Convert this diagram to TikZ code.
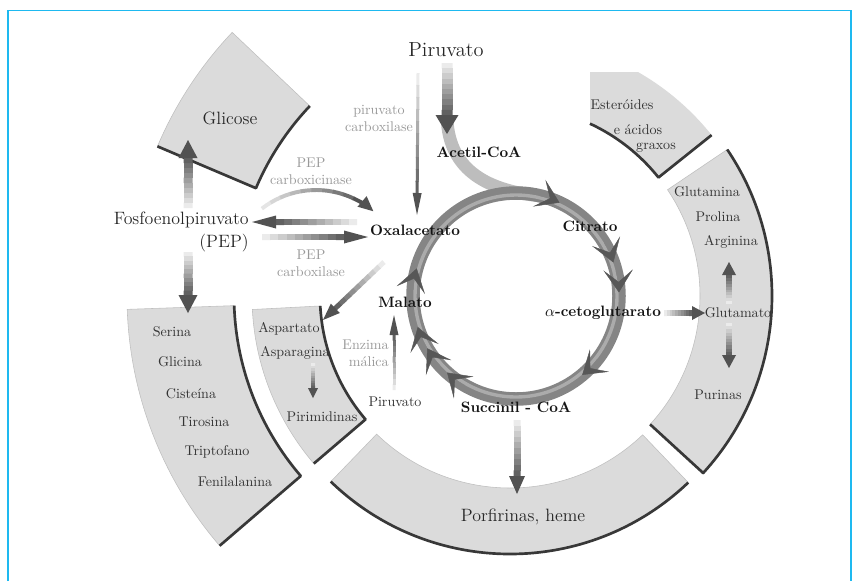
\documentclass[tikz,border=0pt]{standalone}
\usepackage{fontspec}
\usepackage{tikz}
\usetikzlibrary{calc, arrows.meta}

\definecolor{moldura}{RGB}{30,185,240}

% seta reta com degrade: inicio, ponta, haste, largura e comprimento da cabeca (px)
\newcommand\fadearrow[5]{%
  \coordinate (hb) at ($(#2)!#5*0.7113pt!(#1)$);
  \foreach \i in {0,...,9}{%
    \pgfmathsetmacro\shd{8+6*\i}%
    \draw[line width=#3*0.7113pt, black!\shd] ($(#1)!\i/10!(hb)$) -- ($(#1)!\i/10+0.11!(hb)$);
  }%
  \fill[black!68] ($(hb)!#4*0.3557pt!90:(#2)$) -- (#2) -- ($(hb)!#4*0.3557pt!-90:(#2)$) -- cycle;
}
% setor do anel: angulo inicial, final, raio interno, externo
\newcommand\ringpiece[4]{%
  \filldraw[piece] ($(ctr)+(#1:#3)$) arc[start angle=#1, end angle=#2, radius=#3]
    -- ($(ctr)+(#2:#4)$) arc[start angle=#2, end angle=#1, radius=#4] -- cycle;
}

\begin{document}
\begin{tikzpicture}[x=0.025cm, y=-0.025cm,
    piece/.style={fill=black!14, draw=black!25, line width=0.4pt},
    rim/.style={draw=black!78, line width=1.9pt, line join=round},
    cycletip/.style={draw=black!48, line width=0.3pt,
        -{Stealth[length=16pt, width=21pt, inset=8.5pt, color=black!66]}},
    met/.style={font=\fontsize{10.7}{13}\selectfont\bfseries, text=black!92, inner sep=0pt},
    prod/.style={font=\fontsize{10}{12}\selectfont, text=black!80, inner sep=0pt},
    enz/.style={font=\fontsize{10}{12.1}\selectfont, text=black!40, align=center, inner sep=0pt},
    mid/.style={font=\fontsize{12.7}{16.4}\selectfont, text=black!85, inner sep=0pt}]
    \useasboundingbox (0,0) rectangle (859,581);

    % moldura
    \draw[moldura, line width=1.1pt] (8,581) -- (8,10.5) -- (851,10.5) -- (851,581);

    % anel externo
    \coordinate (ctr) at (510,296);
    \ringpiece{203}{223.5}{276}{383}
    \ringpiece{139.3}{178}{276}{383}
    \ringpiece{139.5}{177}{190}{258}
    \ringpiece{46.3}{134}{192}{258}
    \ringpiece{-34}{42.5}{190}{262}
    \begin{scope}
        \clip (560,72) rectangle (760,200);
        \fill[black!14] ($(ctr)+(-71.9:258)$) arc[start angle=-71.9, end angle=-38.6, radius=258]
            -- ($(ctr)+(-38.6:190)$) arc[start angle=-38.6, end angle=-65.1, radius=190] -- cycle;
    \end{scope}

    % bordas escuras
    \draw[rim] ($(ctr)+(203:383)$) -- ($(ctr)+(203:276)$) arc[start angle=203, end angle=223.5, radius=276];
    \draw[rim] ($(ctr)+(178:276)$) arc[start angle=178, end angle=139.3, radius=276] -- ($(ctr)+(139.3:383)$);
    \draw[rim] ($(ctr)+(177:190)$) arc[start angle=177, end angle=139.5, radius=190] -- ($(ctr)+(139.5:258)$);
    \draw[rim] ($(ctr)+(134:258)$) arc[start angle=134, end angle=46.3, radius=258];
    \draw[rim] ($(ctr)+(-34:262)$) arc[start angle=-34, end angle=42.5, radius=262] -- ($(ctr)+(42.5:190)$);
    \draw[rim] ($(ctr)+(-38.6:258)$) -- ($(ctr)+(-38.6:190)$) arc[start angle=-38.6, end angle=-65.1, radius=190];

    % ciclo
    \coordinate (cyc) at (516,296);
    \coordinate (acs) at (447,118);
    \coordinate (acm) at ($(cyc)+(-76:103)$);
    \draw[line width=9pt, black!26] (acs) .. controls (449,172) and (490,191) .. (acm);
    \draw[line width=9.6pt, black!48] (cyc) circle[radius=103];
    \draw[line width=2.4pt, black!33] (cyc) circle[radius=101];
    \foreach \a in {295,341,358,50,132,149.5,162.5,195.5}
        \draw[cycletip] ($(cyc)+({\a-12}:103)$) arc[start angle=\a-12, end angle=\a, radius=103];

    % metabolitos
    \node[mid, font=\fontsize{14.5}{17}\selectfont] (pir) at (446,50) {Piruvato};
    \node[met] (acetil) at (479,152) {Acetil-CoA};
    \node[met] (oxal) at (415,230) {Oxalacetato};
    \node[met] (citr) at (590,226) {Citrato};
    \node[met] (akg) at (603,313) {$\alpha$-cetoglutarato};
    \node[met] (succ) at (516,407) {Succinil - CoA};
    \node[met] (mal) at (405,302) {Malato};
    \node[prod] (pirm) at (395,402) {Piruvato};
    \node[mid, align=right, anchor=east] (pep) at (249,232) {Fosfoenolpiruvato\\(PEP)};
    \node[mid] (glic) at (230,118) {Glicose};
    \node[mid] (porf) at (523,517) {Porfirinas, heme};

    % enzimas
    \node[enz] (pcx) at (379,118) {piruvato\\carboxilase};
    \node[enz] (pck) at (311,171) {PEP\\carboxicinase};
    \node[enz] (pepc) at (311,263) {PEP\\carboxilase};
    \node[enz, align=right, anchor=east] (enzm) at (389,353) {Enzima\\málica};

    % produtos
    \node[prod] (est1) at (622,105) {Esteróides};
    \node[prod] (est2) at (638,130) {e ácidos};
    \node[prod] (est3) at (656,148) {graxos};
    \node[prod] (gln) at (707,192) {Glutamina};
    \node[prod] (pro) at (718,217) {Prolina};
    \node[prod] (arg) at (731,242) {Arginina};
    \node[prod] (glu) at (738,313) {Glutamato};
    \node[prod] (pur) at (718,395) {Purinas};
    \node[prod] (asp) at (289,329) {Aspartato};
    \node[prod] (asn) at (295,353) {Asparagina};
    \node[prod] (pyr) at (322,417) {Pirimidinas};
    \foreach \t/\x/\y [count=\k] in {Serina/172/332, Glicina/180/362, Cisteína/191/394,
        Tirosina/204/422, Triptofano/217/452, Fenilalanina/235/482}
        \node[prod] (aa\k) at (\x,\y) {\t};

    % setas
    \coordinate (p1) at (447,63);   \coordinate (p2) at (447,134);
    \coordinate (pc1) at (418,73);  \coordinate (pc2) at (417,215);
    \coordinate (ol1) at (357,222); \coordinate (ol2) at (252,222);
    \coordinate (or1) at (262,237); \coordinate (or2) at (368,237);
    \coordinate (gu1) at (188,208); \coordinate (gu2) at (188,140);
    \coordinate (gd1) at (188,252); \coordinate (gd2) at (188,313);
    \coordinate (oa1) at (384,262); \coordinate (oa2) at (323,320);
    \coordinate (py1) at (313,363); \coordinate (py2) at (313,398);
    \coordinate (ml1) at (394,390); \coordinate (ml2) at (394,315);
    \coordinate (sp1) at (517,420); \coordinate (sp2) at (517,494);
    \coordinate (ag1) at (664,313); \coordinate (ag2) at (705,313);
    \coordinate (gr1) at (729,304); \coordinate (gr2) at (729,262);
    \coordinate (gp1) at (729,323); \coordinate (gp2) at (729,368);
    \fadearrow{p1}{p2}{11}{23}{19}
    \fadearrow{pc1}{pc2}{3}{9}{22}
    \fadearrow{ol1}{ol2}{6}{13}{24}
    \fadearrow{or1}{or2}{6}{13}{24}
    \fadearrow{gu1}{gu2}{9}{19}{18}
    \fadearrow{gd1}{gd2}{9}{19}{18}
    \fadearrow{oa1}{oa2}{5}{13}{17}
    \fadearrow{py1}{py2}{4}{10}{10}
    \fadearrow{ml1}{ml2}{3}{9}{20}
    \fadearrow{sp1}{sp2}{7}{16}{18}
    \fadearrow{ag1}{ag2}{6}{14}{13}
    \fadearrow{gr1}{gr2}{6}{14}{13}
    \fadearrow{gp1}{gp2}{6}{14}{13}

    % PEP carboxicinase (curva)
    \coordinate (pkc) at (316,278);
    \foreach \i in {0,...,8}{
        \pgfmathsetmacro\shd{10+6*\i}
        \draw[line width=2.8pt, black!\shd] ($(pkc)+({-128+7*\i}:88)$)
            arc[start angle=-128+7*\i, end angle=-128+7*\i+7.3, radius=88];
    }
    \draw[line width=2.8pt, black!68, -{Triangle[length=11pt, width=9pt]}]
        ($(pkc)+(-65:88)$) arc[start angle=-65, end angle=-49, radius=88];
\end{tikzpicture}
\end{document}
